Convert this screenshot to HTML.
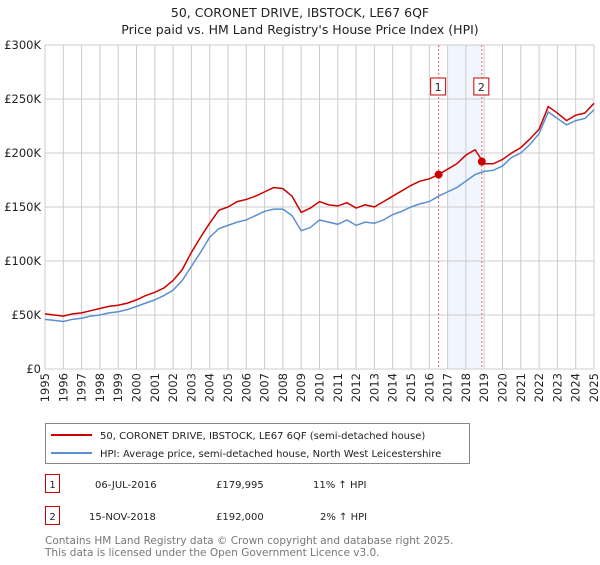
<!DOCTYPE html>
<html><head><meta charset="utf-8"><style>
body{margin:0;width:600px;height:560px;background:#fff;font-family:"Liberation Sans","DejaVu Sans",sans-serif;overflow:hidden}
</style></head><body>
<svg id="chart" width="600" height="560" xmlns="http://www.w3.org/2000/svg" font-family="DejaVu Sans, Liberation Sans, sans-serif">
<text x="300" y="17" text-anchor="middle" font-size="12.5" fill="#222">50, CORONET DRIVE, IBSTOCK, LE67 6QF</text>
<text x="300" y="34" text-anchor="middle" font-size="12.5" fill="#222">Price paid vs. HM Land Registry's House Price Index (HPI)</text>
<g id="grid"></g><g id="marks"></g><g id="axes"></g>
<g>
<rect x="45.5" y="423.5" width="424" height="40" fill="#fff" stroke="#888"/>
<line x1="51" y1="435" x2="92" y2="435" stroke="#cc0000" stroke-width="2"/>
<text x="100" y="439" font-size="10" fill="#222">50, CORONET DRIVE, IBSTOCK, LE67 6QF (semi-detached house)</text>
<line x1="51" y1="453" x2="92" y2="453" stroke="#5b8fd0" stroke-width="2"/>
<text x="100" y="457" font-size="10" fill="#222">HPI: Average price, semi-detached house, North West Leicestershire</text>
</g>
<g font-size="10" fill="#222">
<rect x="45.5" y="474.5" width="14" height="18" fill="#fff" stroke="#cc0000"/>
<text x="52.5" y="488" text-anchor="middle">1</text>
<text x="95" y="488">06-JUL-2016</text><text x="216" y="488">£179,995</text><text x="313" y="488">11% ↑ HPI</text>
<rect x="45.5" y="506.5" width="14" height="18" fill="#fff" stroke="#cc0000"/>
<text x="52.5" y="520" text-anchor="middle">2</text>
<text x="89" y="520">15-NOV-2018</text><text x="216" y="520">£192,000</text><text x="320" y="520">2% ↑ HPI</text>
</g>
<text x="45" y="544" font-size="10.5" fill="#777">Contains HM Land Registry data © Crown copyright and database right 2025.</text>
<text x="45" y="556" font-size="10.5" fill="#777">This data is licensed under the Open Government Licence v3.0.</text>
</svg>
<script>
const years=[1995,1996,1997,1998,1999,2000,2001,2002,2003,2004,2005,2006,2007,2008,2009,2010,2011,2012,2013,2014,2015,2016,2017,2018,2019,2020,2021,2022,2023,2024,2025];
const yTicks=[0,50,100,150,200,250,300];
const yTickLabels=["£0","£50K","£100K","£150K","£200K","£250K","£300K"];
const hpiValues=[46,45,44,46,47,49,50,52,53,55,58,61,64,68,73,82,95,108,122,130,133,136,138,142,146,148,148,142,128,131,138,136,134,138,133,136,135,138,143,146,150,153,155,160,164,168,174,180,183,184,188,196,200,208,218,238,232,226,230,232,240];
const priceValues=[51,50,49,51,52,54,56,58,59,61,64,68,71,75,82,92,108,122,135,147,150,155,157,160,164,168,167,160,145,149,155,152,151,154,149,152,150,155,160,165,170,174,176,180,185,190,198,203,190,190,194,200,205,213,222,243,237,230,235,237,246];
const saleDates=[2016.51,2018.87];
const salePrices=[179.995,192];
const saleLabels=["1","2"];
const NS="http://www.w3.org/2000/svg";
const X0=45,X1=594,Y0=369,Y1=45;
const xs=t=>X0+(t-1995)/(2025-1995)*(X1-X0);
const ys=v=>Y0-v/300*(Y0-Y1);
function mk(tag,attrs,parent){const e=document.createElementNS(NS,tag);for(const k in attrs)e.setAttribute(k,attrs[k]);parent.appendChild(e);return e;}
const grid=document.getElementById('grid'),marks=document.getElementById('marks'),axes=document.getElementById('axes');
const band=mk('rect',{x:xs(2017),y:Y1,width:xs(saleDates[1])-xs(2017),height:Y0-Y1,fill:'#eef3fc',opacity:0.8},grid);


years.forEach(y=>{const l=mk('line',{x1:xs(y),x2:xs(y),y1:Y1,y2:Y0,stroke:'#ccc'},grid);


const tx=xs(y)+4, ty=Y0+4;
const t=mk('text',{x:tx,y:ty,'text-anchor':'end','font-size':'11.5',fill:'#222',transform:'rotate(-90 '+tx+' '+ty+')'},axes);t.textContent=y;

});
yTicks.forEach((v,i)=>{const l=mk('line',{x1:X0,x2:X1,y1:ys(v),y2:ys(v),stroke:'#ccc'},grid);


const t=mk('text',{x:X0-4,y:ys(v)+4,'text-anchor':'end','font-size':'11.5',fill:'#222'},axes);t.textContent=yTickLabels[i];

});
function pts(arr){return arr.map((v,i)=>xs(1995+i*0.5)+','+ys(v)).join(' ');}
saleDates.forEach((d,i)=>{const l=mk('line',{x1:xs(d),x2:xs(d),y1:Y1,y2:Y0,stroke:'#e06666','stroke-dasharray':'2,2'},marks);


const r=mk('rect',{x:xs(d)-8,y:78,width:15,height:17,fill:'#fff',stroke:'#cc0000'},marks);


const t=mk('text',{x:xs(d)-0.5,y:91,'text-anchor':'middle','font-size':'11',fill:'#222'},marks);t.textContent=saleLabels[i];

});
const hpi=mk('polyline',{points:pts(hpiValues),fill:'none',stroke:'#5b8fd0','stroke-width':1.5},marks);


const pr=mk('polyline',{points:pts(priceValues),fill:'none',stroke:'#cc0000','stroke-width':1.5},marks);


saleDates.forEach((d,i)=>{const c=mk('circle',{cx:xs(d),cy:ys(salePrices[i]),r:4,fill:'#cc0000'},marks);

});
</script>
</body></html>
